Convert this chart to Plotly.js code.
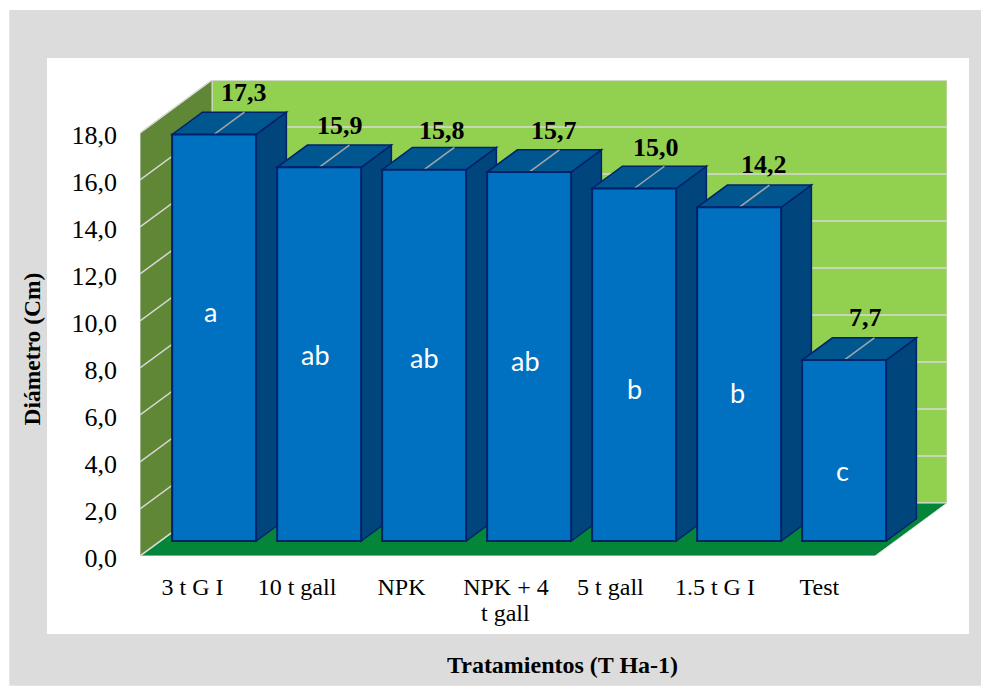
<!DOCTYPE html>
<html>
<head>
<meta charset="utf-8">
<script src="https://cdn.plot.ly/plotly-3.0.1.min.js"></script>
<style>html,body{margin:0;padding:0;background:#fff}#chart{width:981px;height:686px}</style>
</head>
<body>
<div id="chart"></div>
<script>
// Stem diameter per treatment
const categories = ['3 t G I', '10 t gall', 'NPK', 'NPK + 4<br>t gall', '5 t gall', '1.5 t G I', 'Test'];
const diameters = [17.3, 15.9, 15.8, 15.7, 15.0, 14.2, 7.7];
const groups = ['a', 'ab', 'ab', 'ab', 'b', 'b', 'c'];
const groupLabelX = [0.167, 1.167, 2.214, 3.167, 4.205, 5.195, 6.186];
const groupLabelY = [10.42, 8.59, 8.46, 8.34, 7.14, 6.97, 3.65];
const valueLabelX = [0.49, 1.405, 2.376, 3.443, 4.414, 5.443, 6.414];
const valueLabelY = [19.72, 18.3, 18.09, 18.09, 17.4, 16.64, 10.13];
const yTicks = [0, 2, 4, 6, 8, 10, 12, 14, 16, 18];
const yTickLabels = ['0,0', '2,0', '4,0', '6,0', '8,0', '10,0', '12,0', '14,0', '16,0', '18,0'];

// Oblique projection of the 3D box: depth 0 is the front edge of the floor, depth 1 the back wall
const W = 981, H = 686;
const M = {l: 140, r: 34, t: 80, b: 130};
const pxX = 105, pxY = 23.5;
const depthX = 72 / pxX, depthY = 53 / pxY;
const xMin = -0.5, xEnd = 6.5;
const xMax = xEnd + depthX, yTop = 18 + depthY;
const barFront = 0.283, barBack = 0.703, barHalf = 0.4, barNudge = 0.012;
const labelPitch = 0.995;

const pt = (x, y, d) => [x + d * depthX, y + d * depthY];
const poly = pts => 'M' + pts.map(p => p[0] + ',' + p[1]).join('L') + 'Z';
const face = (pts, fill, line, width) => ({
  type: 'path', layer: 'below', xref: 'x', yref: 'y', path: poly(pts),
  fillcolor: fill, line: {color: line, width: width}
});
const seg = (a, b, color, width) => ({
  type: 'line', layer: 'below', xref: 'x', yref: 'y',
  x0: a[0], y0: a[1], x1: b[0], y1: b[1], line: {color: color, width: width}
});

// Paper background panels, positioned in pixels
const plotW = W - M.l - M.r, plotH = H - M.t - M.b;
const paperX = px => (px - M.l) / plotW;
const paperY = py => (H - M.b - py) / plotH;
const panel = (x0, y0, x1, y1, color) => ({
  type: 'rect', layer: 'below', xref: 'paper', yref: 'paper',
  x0: paperX(x0), x1: paperX(x1), y0: paperY(y1), y1: paperY(y0),
  fillcolor: color, line: {width: 0}
});

const shapes = [
  panel(9.3, 10, 981, 685.7, '#dcdcdc'),
  panel(47, 58, 969, 634, '#ffffff'),
  face([pt(xMin, 0, 1), pt(xMin, 18, 1), pt(xEnd, 18, 1), pt(xEnd, 0, 1)], '#92d050', '#d9d9d9', 1),
  face([pt(xMin, 0, 0), pt(xMin, 18, 0), pt(xMin, 18, 1), pt(xMin, 0, 1)], '#5f8735', '#d9d9d9', 1),
  face([pt(xMin, 0, 0), pt(xEnd, 0, 0), pt(xEnd, 0, 1), pt(xMin, 0, 1)], '#04853a', '#e4e4e4', 1)
];

// Grid lines run across the side wall and along the back wall
yTicks.forEach(v => {
  shapes.push(seg(pt(xMin, v, 0), pt(xMin, v, 1), '#d9d9d9', 1.5));
  if (v > 0) shapes.push(seg(pt(xMin, v, 1), pt(xEnd, v, 1), '#d9d9d9', 1.5));
});

// Top and side faces of each column, with the leader line across the top
const outline = '#00226b';
diameters.forEach((v, i) => {
  const c = i + barNudge, l = c - barHalf, r = c + barHalf;
  shapes.push(face([pt(r, 0, barFront), pt(r, v, barFront), pt(r, v, barBack), pt(r, 0, barBack)], '#00467c', outline, 1.5));
  shapes.push(face([pt(l, v, barFront), pt(r, v, barFront), pt(r, v, barBack), pt(l, v, barBack)], '#00568f', outline, 1.5));
  shapes.push(seg(pt(c, v, barFront), pt(c, v, barBack), '#a6a6a6', 1.5));
});

const serif = '"Liberation Serif", serif';
const comma = v => v.toFixed(1).replace('.', ',');

const annotations = [];
diameters.forEach((v, i) => {
  annotations.push({
    x: valueLabelX[i], y: valueLabelY[i], xref: 'x', yref: 'y', text: '<b>' + comma(v) + '</b>', showarrow: false,
    xanchor: 'center', yanchor: 'middle',
    font: {family: serif, size: 26, color: '#000'}
  });
  annotations.push({
    x: groupLabelX[i], y: groupLabelY[i], xref: 'x', yref: 'y', text: groups[i], showarrow: false,
    xanchor: 'center', yanchor: 'middle',
    font: {family: 'Lato, sans-serif', size: 27, color: '#fff'}
  });
});
annotations.push({
  xref: 'paper', yref: 'paper', x: paperX(31), y: paperY(349.5),
  text: '<b>Diámetro (Cm)</b>', textangle: -90, showarrow: false, xanchor: 'center', yanchor: 'middle',
  font: {family: serif, size: 23.5, color: '#000'}
});
annotations.push({
  xref: 'paper', yref: 'paper', x: paperX(562), y: paperY(665),
  text: '<b>Tratamientos (T Ha-1)</b>', showarrow: false, xanchor: 'center', yanchor: 'middle',
  font: {family: serif, size: 24, color: '#000'}
});

// The wrapped category gets its second line closer than the default tick line height
const firstLines = categories.map(c => c.split('<br>')[0]);
categories.forEach((c, i) => {
  const parts = c.split('<br>');
  if (parts[1]) annotations.push({
    x: i * labelPitch, y: paperY(613), xref: 'x', yref: 'paper', text: parts[1], showarrow: false,
    xanchor: 'center', yanchor: 'middle', font: {family: serif, size: 24, color: '#000'}
  });
});

const trace = {
  type: 'bar',
  x: diameters.map((_, i) => pt(i + barNudge, 0, barFront)[0]),
  y: diameters,
  base: diameters.map((_, i) => pt(i + barNudge, 0, barFront)[1]),
  width: barHalf * 2,
  marker: {color: '#0070c0', line: {color: outline, width: 2}},
  hoverinfo: 'skip'
};

const layout = {
  width: W, height: H, margin: M, showlegend: false,
  paper_bgcolor: '#ffffff', plot_bgcolor: 'rgba(0,0,0,0)',
  xaxis: {
    range: [xMin, xMax], tickmode: 'array', tickvals: categories.map((_, i) => i * labelPitch), ticktext: firstLines,
    showgrid: false, zeroline: false, showline: false, ticks: '', ticklabelstandoff: 14, tickangle: 0,
    tickfont: {family: serif, size: 24, color: '#000'}
  },
  yaxis: {
    range: [0, yTop], tickmode: 'array', tickvals: yTicks, ticktext: yTickLabels,
    showgrid: false, zeroline: false, showline: false, ticks: '', ticklabelstandoff: 22, ticklabelshift: 2,
    tickfont: {family: serif, size: 26, color: '#000'}
  },
  shapes: shapes,
  annotations: annotations
};

Plotly.newPlot('chart', [trace], layout, {displayModeBar: false, responsive: false});
</script>
</body>
</html>
